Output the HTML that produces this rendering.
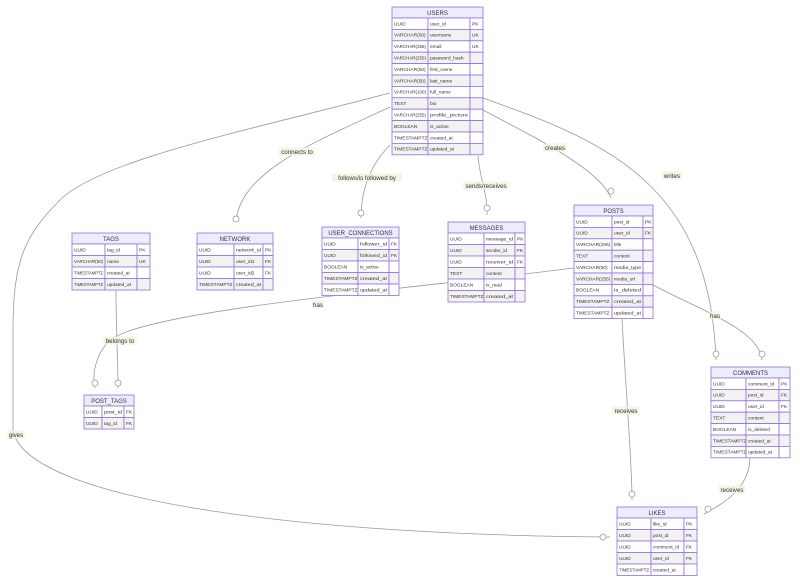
<!DOCTYPE html>
<html><head><meta charset="utf-8"><style>
html,body{margin:0;padding:0;background:#fff;width:800px;height:585px;overflow:hidden}
svg{display:block;font-family:"Liberation Sans",sans-serif}
.l{fill:none;stroke:#999;stroke-width:0.8}
.lb{font-size:6.2px;fill:#333}
.c{fill:#fff;stroke:#999;stroke-width:0.8}
</style></head><body>
<svg id="s" width="800" height="585" viewBox="0 0 800 585">
<g id="edges">
<path class="l" d="M390,107 C320,140 240,170 236,222"/>
<path class="l" d="M390,145 C370,165 361,190 361,218"/>
<path class="l" d="M478,156 C480,180 488,195 487,215"/>
<path class="l" d="M483,110 C540,140 600,170 611,198"/>
<path class="l" d="M483,98 C600,140 710,180 716,360"/>
<path class="l" d="M390,93 C250,130 100,160 60,200 C25,235 13,260 13,330 L13,430 C25,500 300,535 610,537"/>
<path class="l" d="M116,290 C116,330 118,360 118,388"/>
<path class="l" d="M574,268 C400,290 150,310 110,340 C95,355 92,375 95,388"/>
<path class="l" d="M653,285 C700,310 760,330 762,360"/>
<path class="l" d="M622,318 C625,380 632,460 632,500"/>
<path class="l" d="M750,457 C750,490 720,505 704,514"/>
</g>
<g>
<circle class="c" cx="236" cy="219" r="3"/>
<circle class="c" cx="361" cy="213" r="3"/>
<circle class="c" cx="487" cy="208" r="3"/>
<circle class="c" cx="611" cy="191" r="3"/>
<circle class="c" cx="716" cy="354" r="3"/>
<circle class="c" cx="762" cy="354" r="3"/>
<circle class="c" cx="95" cy="383" r="3"/>
<circle class="c" cx="118" cy="383" r="3"/>
<circle class="c" cx="632" cy="494" r="3"/>
<circle class="c" cx="603" cy="537" r="3"/>
<circle class="c" cx="708" cy="509" r="3"/>
</g>
<g id="tables"></g>
<g id="labels"></g>
</svg>
<script>
var T=[
["USERS",392,7,[36,42,13],11.4,[["UUID","user_id","PK"],["VARCHAR(50)","username","UK"],["VARCHAR(255)","email","UK"],["VARCHAR(255)","password_hash",""],["VARCHAR(50)","first_name",""],["VARCHAR(50)","last_name",""],["VARCHAR(100)","full_name",""],["TEXT","bio",""],["VARCHAR(255)","profile_picture",""],["BOOLEAN","is_active",""],["TIMESTAMPTZ","created_at",""],["TIMESTAMPTZ","updated_at",""]]],
["TAGS",72,233,[33,32,13],11.5,[["UUID","tag_id","PK"],["VARCHAR(50)","name","UK"],["TIMESTAMPTZ","created_at",""],["TIMESTAMPTZ","updated_at",""]]],
["NETWORK",197,233,[37,29,10],11.5,[["UUID","network_id","PK"],["UUID","user_id1","FK"],["UUID","user_id2","FK"],["TIMESTAMPTZ","created_at",""]]],
["USER_CONNECTIONS",322,227,[36,31,10],11.5,[["UUID","follower_id","FK"],["UUID","followed_id","FK"],["BOOLEAN","is_active",""],["TIMESTAMPTZ","created_at",""],["TIMESTAMPTZ","updated_at",""]]],
["MESSAGES",448,222,[36,31,10],11.5,[["UUID","message_id","PK"],["UUID","sender_id","FK"],["UUID","receiver_id","FK"],["TEXT","content",""],["BOOLEAN","is_read",""],["TIMESTAMPTZ","created_at",""]]],
["POSTS",574,205,[38,31,10],11.4,[["UUID","post_id","PK"],["UUID","user_id","FK"],["VARCHAR(255)","title",""],["TEXT","content",""],["VARCHAR(50)","media_type",""],["VARCHAR(255)","media_url",""],["BOOLEAN","is_deleted",""],["TIMESTAMPTZ","created_at",""],["TIMESTAMPTZ","updated_at",""]]],
["COMMENTS",711,367,[35,33,11],11.4,[["UUID","comment_id","PK"],["UUID","post_id","FK"],["UUID","user_id","FK"],["TEXT","content",""],["BOOLEAN","is_deleted",""],["TIMESTAMPTZ","created_at",""],["TIMESTAMPTZ","updated_at",""]]],
["POST_TAGS",84,395,[18,22,10],11.5,[["UUID","post_id","FK"],["UUID","tag_id","FK"]]],
["LIKES",617,507,[34,33,13],11.5,[["UUID","like_id","PK"],["UUID","post_id","FK"],["UUID","comment_id","FK"],["UUID","user_id","FK"],["TIMESTAMPTZ","created_at",""]]]
];
var s="";
function tx(x,y,str,maxw){
 var est=str.length*2.75;
 var a=est>maxw?' textLength="'+maxw+'" lengthAdjust="spacingAndGlyphs"':'';
 return '<text x="'+x+'" y="'+y+'" font-size="4.8" fill="#333"'+a+'>'+str+'</text>';
}
T.forEach(function(t){
 var n=t[0],x=t[1],y=t[2],c=t[3],h=t[4],r=t[5],w=c[0]+c[1]+c[2],hh=11;
 s+='<rect x="'+x+'" y="'+y+'" width="'+w+'" height="'+hh+'" fill="#ECECFF" stroke="#9370DB" stroke-width="0.8"/>';
 s+='<text x="'+(x+w/2)+'" y="'+(y+7.8)+'" font-size="6" text-anchor="middle" fill="#333">'+n+'</text>';
 r.forEach(function(row,i){
  var yy=y+hh+i*h,xx=x;
  for(var k=0;k<3;k++){
   s+='<rect x="'+xx+'" y="'+yy+'" width="'+c[k]+'" height="'+h+'" fill="'+(i%2?"#f2f2f2":"#ffffff")+'" stroke="#9370DB" stroke-width="0.8"/>';
   if(row[k])s+=tx(xx+2,yy+7.3,row[k],c[k]-4);
   xx+=c[k];
  }
 });
});
document.getElementById("tables").innerHTML=s;
var L=[["connects to",297,152],["follows/is followed by",367,178],["sends/receives",486,186],["creates",555,148],["writes",672,176],["gives",16,435],["belongs to",120,341],["has",318,305],["has",715,316],["receives",626,411],["receives",732,490]];
var ls="";
L.forEach(function(l){var w=l[0].length*3.1+2;
 ls+='<rect x="'+(l[1]-w/2)+'" y="'+(l[2]-4.5)+'" width="'+w+'" height="8" fill="rgba(240,244,225,0.85)"/>';
 ls+='<text class="lb" x="'+l[1]+'" y="'+(l[2]+2)+'" text-anchor="middle">'+l[0]+'</text>';});
document.getElementById("labels").innerHTML=ls;
</script>
</body></html>
